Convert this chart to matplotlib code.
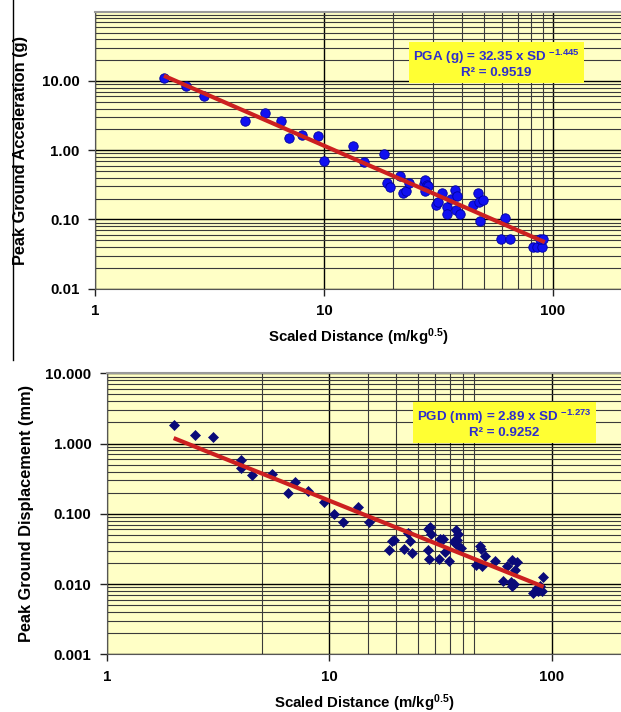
import matplotlib
matplotlib.use("Agg")
import matplotlib.pyplot as plt
import matplotlib.ticker as mticker
from matplotlib.lines import Line2D
import numpy as np

plt.rcParams['font.family'] = ['Liberation Sans', 'DejaVu Sans']
plt.rcParams['font.weight'] = 'bold'
plt.rcParams['mathtext.fontset'] = 'custom'
plt.rcParams['mathtext.rm'] = 'Liberation Sans:bold'
plt.rcParams['mathtext.it'] = 'Liberation Sans:bold'
plt.rcParams['mathtext.bf'] = 'Liberation Sans:bold'

# ---------------- data ----------------
pga_sd = [2.0, 2.5, 3.0, 4.5, 5.5, 6.5, 7.0, 8.0, 9.4, 10.0,
          13.4, 15.0, 18.3, 18.9, 19.4, 21.5, 22.2, 22.8, 23.5,
          27.3, 27.6, 28.3, 28.5, 27.6, 30.8, 31.6, 32.7, 34.3, 34.3,
          35.7, 37.3, 38.2, 37.7, 39.3, 44.9, 47.2, 47.7, 49.6, 48.0,
          61.7, 59.3, 64.9, 82.0, 85.3, 89.1, 87.3, 90.1]
pga_val = [11.2, 8.5, 6.0, 2.66, 3.5, 2.63, 1.51, 1.67, 1.61, 0.71,
           1.14, 0.68, 0.87, 0.34, 0.29, 0.43, 0.24, 0.26, 0.34,
           0.33, 0.376, 0.311, 0.30, 0.26, 0.16, 0.178, 0.24, 0.151, 0.121,
           0.20, 0.263, 0.216, 0.135, 0.121, 0.16, 0.24, 0.178, 0.188, 0.094,
           0.106, 0.0525, 0.0525, 0.0397, 0.0397, 0.0397, 0.0525, 0.0525]

pgd_sd = [2.0, 2.5, 3.0, 4.0, 4.0, 4.5, 5.53, 6.53, 7.04, 8.05, 9.5,
          10.5, 11.5, 13.5, 15.1, 18.6, 19.1, 19.6, 21.6, 22.6, 23.2, 23.6,
          27.7, 28.1, 27.7, 28.3, 28.8, 31.2, 31.6, 32.6, 33.3, 34.7,
          36.4, 37.3, 38.0, 36.7, 37.5, 39.0, 37.3, 47.6, 48.0, 50.1,
          45.7, 48.4, 55.6, 62.8, 66.1, 69.6, 68.3, 60.2, 65.4, 66.6, 67.5,
          91.7, 82.7, 87.1, 90.1, 85.6, 88.4]
pgd_val = [1.84, 1.33, 1.23, 0.585, 0.446, 0.358, 0.366, 0.199, 0.28, 0.208, 0.147,
           0.098, 0.076, 0.124, 0.076, 0.0305, 0.041, 0.0428, 0.0312, 0.0537, 0.041, 0.0274,
           0.0305, 0.0225, 0.060, 0.065, 0.051, 0.023, 0.044, 0.044, 0.0286, 0.0213,
           0.0396, 0.058, 0.051, 0.043, 0.042, 0.033, 0.037, 0.0346, 0.0317, 0.025,
           0.0186, 0.018, 0.0212, 0.018, 0.0217, 0.0207, 0.0158, 0.0112, 0.0107, 0.0093, 0.0099,
           0.0125, 0.0075, 0.0079, 0.0079, 0.0088, 0.0093]

# fitted power laws (as printed on the chart)
pga_a, pga_b, pga_r2 = 32.35, -1.445, 0.9519
pgd_a, pgd_b, pgd_r2 = 2.89, -1.273, 0.9252
fit_range = [2.0, 92.0]

x_ticks = [1, 10, 100]
x_labels = ['1', '10', '100']
pga_yticks = [0.01, 0.1, 1, 10]
pga_ylabels = ['0.01', '0.10', '1.00', '10.00']
pgd_yticks = [0.001, 0.01, 0.1, 1, 10]
pgd_ylabels = ['0.001', '0.010', '0.100', '1.000', '10.000']
pga_xgrid = [20, 30, 40, 50, 60, 70, 80, 90]
pgd_xgrid = [5, 15, 20, 25, 30, 35, 40, 45]

# ---------------- figure ----------------
W, H = 621, 712
fig = plt.figure(figsize=(W / 100, H / 100), dpi=100)
fig.patch.set_facecolor('white')

bg = '#FFFFC6'
red = '#CC2020'


def px(x0, y0, x1, y1):
    return [x0 / W, 1 - y1 / H, (x1 - x0) / W, (y1 - y0) / H]


def style_axes(ax, xlim, ylim, yticks, ylabels, xgrid):
    ax.set_xscale('log')
    ax.set_yscale('log')
    ax.set_xlim(*xlim)
    ax.set_ylim(*ylim)
    ax.set_facecolor(bg)
    ax.xaxis.set_major_locator(mticker.FixedLocator(x_ticks))
    ax.xaxis.set_major_formatter(mticker.FixedFormatter(x_labels))
    ax.xaxis.set_minor_locator(mticker.FixedLocator(xgrid))
    ax.xaxis.set_minor_formatter(mticker.NullFormatter())
    ax.yaxis.set_major_locator(mticker.FixedLocator(yticks))
    ax.yaxis.set_major_formatter(mticker.FixedFormatter(ylabels))
    ax.yaxis.set_minor_locator(mticker.LogLocator(base=10, subs=np.arange(2, 10)))
    ax.yaxis.set_minor_formatter(mticker.NullFormatter())
    ax.grid(True, which='major', axis='both', color='#000000', lw=1.0, zorder=0)
    ax.grid(True, which='minor', axis='both', color='#3a3a3a', lw=0.8, zorder=0)
    ax.set_axisbelow(True)
    ax.tick_params(which='major', direction='out', length=5, width=1, colors='#222222',
                   labelsize=10.8, labelcolor='black', pad=6)
    ax.tick_params(which='minor', length=0)
    ax.spines['right'].set_visible(False)
    ax.spines['top'].set_color('#9a9a9a')
    ax.spines['top'].set_linewidth(1.5)
    ax.spines['left'].set_color('#555555')
    ax.spines['bottom'].set_color('#555555')
    for lab in ax.get_xticklabels() + ax.get_yticklabels():
        lab.set_fontweight('bold')


# ---- top chart: PGA ----
ax1 = fig.add_axes(px(95, 11.7, W, 288.7))
style_axes(ax1, (1, 198), (0.01, 100), pga_yticks, pga_ylabels, pga_xgrid)
ax1.plot(pga_sd, pga_val, 'o', ms=6.8, mfc='#1010F0', mec='#0000A0', mew=0.6, zorder=3)
xf = np.geomspace(fit_range[0], fit_range[1], 50)
ax1.plot(xf, pga_a * xf ** pga_b, color=red, lw=3.0, zorder=4, solid_capstyle='butt')
ax1.set_xlabel(r'Scaled Distance (m/kg$^{0.5}$)', fontsize=10.8, fontweight='bold', labelpad=6)
ax1.set_ylabel('Peak Ground Acceleration (g)', fontsize=11.8, fontweight='bold', labelpad=10)

# ---- bottom chart: PGD ----
ax2 = fig.add_axes(px(106.7, 373.3, W, 654.3))
style_axes(ax2, (1, 205), (0.001, 10), pgd_yticks, pgd_ylabels, pgd_xgrid)
ax2.plot(pgd_sd, pgd_val, 'D', ms=5.2, mfc='#0A0A78', mec='#0A0A78', mew=0.5, zorder=3)
ax2.plot(xf, pgd_a * xf ** pgd_b, color=red, lw=3.0, zorder=4, solid_capstyle='butt')
ax2.set_xlabel(r'Scaled Distance (m/kg$^{0.5}$)', fontsize=10.8, fontweight='bold', labelpad=6)
ax2.set_ylabel('Peak Ground Displacement (mm)', fontsize=11.8, fontweight='bold', labelpad=8)

# ---- equation boxes ----
box = dict(boxstyle='square,pad=0.3', fc='#FFFF33', ec='none')
blue = '#2E2ECC'
fig.text(496.5 / W, 1 - 63.5 / H,
         'PGA (g) = %.2f x SD $^{%.3f}$\nR\u00b2 = %.4f' % (pga_a, pga_b, pga_r2),
         ha='center', va='center', ma='center', fontsize=9.6, fontweight='bold',
         color=blue, bbox=box, linespacing=1.05)
fig.text(504.5 / W, 1 - 423.5 / H,
         'PGD (mm) = %.2f x SD $^{%.3f}$\nR\u00b2 = %.4f' % (pgd_a, pgd_b, pgd_r2),
         ha='center', va='center', ma='center', fontsize=9.6, fontweight='bold',
         color=blue, bbox=box, linespacing=1.05)

# left border line of the top panel
fig.add_artist(Line2D([13 / W, 13 / W], [1, 1 - 360 / H], color='black', lw=1.0))

fig.savefig('out.png', dpi=100, facecolor='white')
